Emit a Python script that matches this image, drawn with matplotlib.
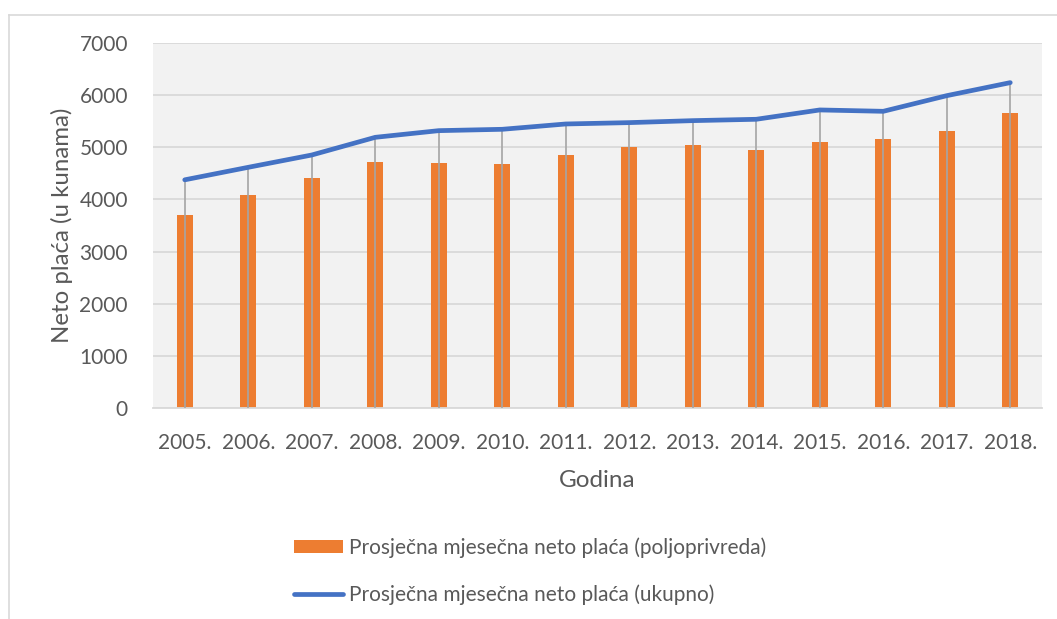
import matplotlib
matplotlib.use("Agg")
import matplotlib.pyplot as plt
from matplotlib.lines import Line2D
from matplotlib.patches import Patch
import numpy as np

years = ["2005.", "2006.", "2007.", "2008.", "2009.", "2010.", "2011.",
         "2012.", "2013.", "2014.", "2015.", "2016.", "2017.", "2018."]
agri = [3695, 4078, 4404, 4718, 4705, 4680, 4846,
        5013, 5038, 4948, 5108, 5160, 5319, 5665]
total = [4376, 4616, 4852, 5191, 5319, 5345, 5447,
         5473, 5511, 5537, 5716, 5690, 5990, 6240]
yticks = [0, 1000, 2000, 3000, 4000, 5000, 6000, 7000]

label_agri = "Prosječna mjesečna neto plaća (poljoprivreda)"
label_total = "Prosječna mjesečna neto plaća (ukupno)"

plt.rcParams['font.family'] = ['Lato', 'DejaVu Sans']
TXT = '#595959'
ORANGE = '#ED7D31'
BLUE = '#4472C4'
GRID = '#D9D9D9'

W, H = 1057, 619
fig = plt.figure(figsize=(W / 100, H / 100), dpi=100)
ax = fig.add_axes([153 / W, 1 - 408 / H, (1042 - 153) / W, (408 - 43) / H])
ax.set_facecolor('#F2F2F2')

x = np.arange(len(years))
ax.bar(x, agri, width=0.25, color=ORANGE, zorder=2)
ax.vlines(x, 0, total, color='#A5A5A5', linewidth=1.2, zorder=3)
ax.plot(x, total, color=BLUE, linewidth=3.4, solid_capstyle='round',
        solid_joinstyle='round', zorder=4)

ax.set_xlim(-0.5, len(years) - 0.5)
ax.set_ylim(0, 7000)
ax.set_yticks(yticks)
ax.set_yticklabels([str(v) for v in yticks])
ax.set_xticks(x)
ax.set_xticklabels(years)
ax.grid(axis='y', color=GRID, linewidth=1.3, zorder=0)
ax.set_axisbelow(True)
for s in ['top', 'right', 'left']:
    ax.spines[s].set_visible(False)
ax.spines['bottom'].set_color(GRID)
ax.spines['bottom'].set_linewidth(1.3)
ax.tick_params(axis='both', length=0, labelsize=15, labelcolor=TXT)
ax.tick_params(axis='y', pad=18)
ax.tick_params(axis='x', pad=18)

ax.set_ylabel("Neto plaća (u kunama)", fontsize=17.3, color=TXT, labelpad=4.5)
ax.set_xlabel("Godina", fontsize=17.5, color=TXT, labelpad=12)

handles = [Patch(facecolor=ORANGE, edgecolor='none'),
           Line2D([0], [0], color=BLUE, linewidth=3.4, solid_capstyle='round')]
leg = fig.legend(handles, [label_agri, label_total], loc='center',
                 bbox_to_anchor=(530 / W, 1 - 571 / H), frameon=False,
                 fontsize=15, labelcolor=TXT, handlelength=2.35,
                 handleheight=0.62, handletextpad=0.3, labelspacing=1.25,
                 borderpad=0)

# outer chart border (top and left visible)
fig.add_artist(Line2D([8.5 / W, 1.0], [1 - 14.5 / H, 1 - 14.5 / H],
                      transform=fig.transFigure, color=GRID, linewidth=1.2))
fig.add_artist(Line2D([8.5 / W, 8.5 / W], [0.0, 1 - 14.5 / H],
                      transform=fig.transFigure, color=GRID, linewidth=1.2))

fig.savefig("out.png", dpi=100, facecolor='white')
